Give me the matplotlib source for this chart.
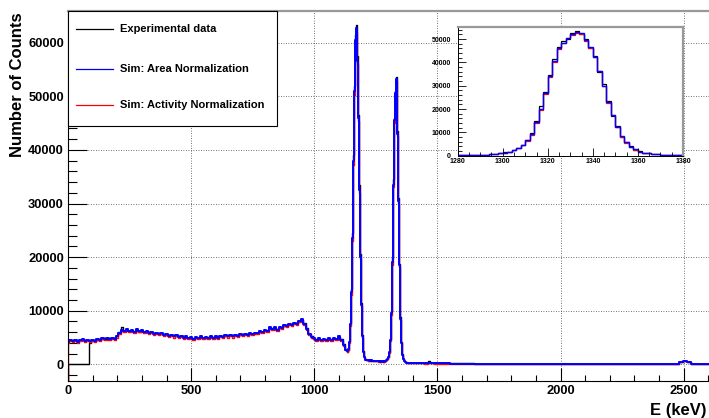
import numpy as np
import matplotlib.pyplot as plt
from matplotlib.ticker import MultipleLocator
from matplotlib.patches import Rectangle
from matplotlib.lines import Line2D

plt.rcParams['font.family'] = ['Liberation Sans', 'DejaVu Sans']
plt.rcParams['font.weight'] = 'bold'

# energy axis of the full spectrum (keV): continuum, photopeaks, high-energy tail
e_cont = np.arange(0, 1140, 10)
e_peak = np.arange(1136, 1404, 4)
e_tail = np.array([1420, 1440, 1455, 1465, 1475, 1500, 1600, 1700, 1800, 1900, 2000,
                   2100, 2200, 2300, 2400, 2470, 2490, 2505, 2520, 2540, 2600])

exp_cont = [0, 0, 0, 0, 0, 0, 0, 0, 0, 3900,
            4400, 4300, 4600, 4600, 4800, 4800, 4800, 4700, 4900, 4900,
            5300, 6000, 7000, 6300, 6400, 6300, 6300, 6200, 6500, 6100,
            6300, 6100, 6200, 5800, 6000, 5800, 5800, 5700, 5700, 5500,
            5500, 5400, 5400, 5300, 5300, 5200, 5200, 5100, 5100, 5000,
            5000, 4900, 5000, 5000, 5100, 5000, 5000, 5100, 5200, 5100,
            5100, 5100, 5200, 5200, 5300, 5300, 5400, 5300, 5400, 5400,
            5500, 5500, 5600, 5600, 5700, 5700, 5800, 5900, 6100, 6100,
            6400, 6400, 6700, 6700, 6800, 6600, 6900, 6900, 7200, 7200,
            7500, 7500, 7700, 7700, 8000, 8300, 7800, 6800, 5700, 5200,
            4800, 4700, 4800, 4600, 4700, 4700, 4800, 4700, 4800, 4800,
            5100, 4700, 3800, 2600]
area_cont = [4200, 4500, 4300, 4600, 4200, 4500, 4700, 4300, 4500, 4300,
             4600, 4400, 4700, 4500, 4900, 4700, 4900, 4700, 5000, 4800,
             5200, 5800, 6500, 6200, 6600, 6200, 6500, 6100, 6600, 6200,
             6400, 6000, 6300, 5900, 6100, 5700, 5900, 5600, 5800, 5400,
             5600, 5300, 5500, 5200, 5400, 5100, 5300, 5000, 5200, 4900,
             5100, 4800, 5100, 4900, 5200, 4900, 5100, 5000, 5300, 5000,
             5200, 5000, 5300, 5100, 5400, 5200, 5500, 5200, 5500, 5300,
             5600, 5400, 5700, 5500, 5800, 5600, 5900, 5800, 6200, 6000,
             6500, 6300, 6900, 6600, 6900, 6500, 7000, 6800, 7300, 7100,
             7600, 7400, 7800, 7600, 8100, 8400, 7600, 6600, 5600, 5100,
             4900, 4600, 4900, 4500, 4800, 4600, 4900, 4600, 4900, 4700,
             5200, 4600, 3700, 2700]
act_cont = [4000, 4300, 4100, 4300, 4000, 4300, 4500, 4100, 4300, 4100,
            4400, 4200, 4500, 4300, 4700, 4500, 4600, 4500, 4700, 4600,
            5000, 5600, 6200, 6000, 6300, 6000, 6200, 5900, 6300, 6000,
            6100, 5800, 6000, 5700, 5900, 5500, 5700, 5400, 5600, 5200,
            5400, 5100, 5300, 5000, 5200, 4900, 5100, 4800, 5000, 4700,
            4900, 4600, 4900, 4700, 5000, 4700, 4900, 4800, 5100, 4800,
            5000, 4800, 5100, 4900, 5200, 5000, 5300, 5000, 5300, 5100,
            5400, 5200, 5500, 5300, 5600, 5400, 5700, 5600, 6000, 5800,
            6300, 6100, 6700, 6400, 6700, 6300, 6800, 6600, 7100, 6900,
            7400, 7200, 7600, 7400, 7900, 8200, 7400, 6400, 5400, 4900,
            4700, 4400, 4700, 4300, 4600, 4400, 4700, 4400, 4700, 4500,
            5000, 4400, 3500, 2600]

exp_peak = [2400, 2700, 4300, 7800, 14000, 24500, 39000, 52000, 61500, 63200,
            57500, 46500, 33500, 20500, 11500, 5400, 2500, 1300, 950, 850,
            800, 700, 800, 700, 750, 700, 650, 650, 650, 600,
            650, 550, 600, 500, 550, 550, 500, 550, 700, 800,
            1000, 1400, 2300, 4700, 10000, 19800, 34500, 46000, 51000, 53600,
            50500, 43500, 31000, 18800, 8800, 4100, 1900, 1050, 700, 480,
            380, 300, 280, 260, 250, 240, 240]
area_peak = [2500, 2800, 4200, 7500, 13500, 23500, 38000, 51000, 60500, 62700,
             56500, 46000, 32500, 20000, 11000, 5200, 2400, 1300, 900, 850,
             800, 750, 800, 700, 750, 700, 650, 700, 650, 600,
             650, 550, 600, 500, 550, 600, 500, 550, 700, 800,
             1000, 1400, 2300, 4600, 9600, 19000, 33500, 45500, 50700, 53300,
             50000, 43000, 30500, 18500, 8500, 4000, 1800, 1000, 650, 450,
             350, 300, 280, 260, 250, 250, 240]
act_peak = [2400, 2700, 4000, 7200, 13000, 23000, 37200, 50200, 59800, 62000,
            56000, 45400, 32000, 19600, 10800, 5000, 2300, 1200, 850, 800,
            750, 700, 750, 650, 700, 650, 600, 650, 600, 550,
            600, 500, 550, 450, 500, 550, 450, 500, 650, 750,
            950, 1300, 2200, 4400, 9200, 18500, 33000, 45000, 50200, 52800,
            49500, 42500, 30000, 18200, 8300, 3900, 1700, 950, 600, 420,
            330, 280, 260, 240, 230, 230, 220]

exp_tail = [220, 200, 350, 550, 300, 180, 170, 160, 150, 140, 150,
            140, 130, 120, 110, 160, 450, 620, 420, 120, 100]
area_tail = [200, 180, 170, 200, 180, 170, 160, 150, 150, 140, 140,
             130, 130, 120, 110, 150, 450, 650, 450, 130, 100]
act_tail = [190, 170, 160, 190, 170, 160, 150, 140, 140, 130, 130,
            120, 120, 110, 100, 140, 420, 620, 430, 120, 90]

# zoom on the 1332 keV line, 2 keV bins
zoom_edges = np.arange(1280, 1382, 2)
exp_zoom = [150, 100, 200, 150, 250, 350, 400, 600, 800, 1100,
            1400, 1700, 2600, 3500, 4500, 6900, 9800, 15000, 21300, 27500,
            34800, 41500, 46800, 49000, 50200, 52500, 53600, 52000, 50200, 46000,
            42800, 35800, 30600, 23500, 17000, 12800, 8000, 5900, 4100, 2600,
            1900, 1200, 1100, 700, 650, 450, 400, 250, 300, 150]
area_zoom = [100, 120, 150, 180, 220, 300, 400, 550, 750, 1000,
             1300, 1800, 2400, 3300, 4600, 6600, 9200, 14500, 20000, 27000,
             34000, 40500, 46000, 48500, 50500, 52000, 53000, 52500, 49500, 46500,
             42500, 36500, 30000, 23000, 17500, 12500, 8300, 5700, 3900, 2700,
             1800, 1300, 1000, 800, 600, 500, 400, 300, 250, 200]
act_zoom = [100, 120, 140, 180, 210, 300, 380, 550, 720, 980,
            1300, 1750, 2350, 3200, 4500, 6400, 9000, 14200, 19800, 26600,
            33600, 40200, 45700, 48300, 50300, 51800, 52800, 52300, 49300, 46200,
            42300, 36200, 29800, 22700, 17300, 12300, 8200, 5600, 3800, 2600,
            1750, 1250, 950, 750, 600, 480, 380, 300, 240, 190]

labels = ['Experimental data', 'Sim: Area Normalization', 'Sim: Activity Normalization']
colors = ['black', '#0000ff', '#ff0000']

W, H = 709, 418
def fx(px):
    return px / W
def fy(py):
    return 1 - py / H

fig = plt.figure(figsize=(W / 100, H / 100), dpi=100)
ax = fig.add_axes([fx(68), fy(381), (W - 68) / W, (381 - 11) / H])

y_lo, y_hi = -3100, 65900
e_main = np.concatenate([e_cont, e_peak, e_tail])
series = [np.concatenate([exp_cont, exp_peak, exp_tail]),
          np.concatenate([area_cont, area_peak, area_tail]),
          np.concatenate([act_cont, act_peak, act_tail])]

# draw order: data, activity, area on top
for i in [0, 2, 1]:
    ax.plot(np.r_[0, e_main], np.r_[y_lo, series[i]], drawstyle='steps-mid',
            color=colors[i], lw=1.4 if i == 1 else 1.0)

ax.set_xlim(0, 2603)
ax.set_ylim(y_lo, y_hi)
ax.xaxis.set_major_locator(MultipleLocator(500))
ax.xaxis.set_minor_locator(MultipleLocator(100))
ax.yaxis.set_major_locator(MultipleLocator(10000))
ax.yaxis.set_minor_locator(MultipleLocator(2000))
ax.tick_params(which='both', direction='in', top=False, right=False, width=0.8)
ax.tick_params(axis='y', which='major', length=14, labelsize=9.3, pad=3)
ax.tick_params(axis='y', which='minor', length=6.5)
ax.tick_params(axis='x', which='major', length=9.5, labelsize=9.3, pad=3)
ax.tick_params(axis='x', which='minor', length=4.5)
ax.grid(True, which='major', color='#444444', linestyle=(0, (1, 2)), linewidth=0.6)
ax.spines['right'].set_visible(False)
ax.spines['top'].set_color('#999999')
ax.spines['top'].set_linewidth(1.6)
ax.spines['left'].set_linewidth(0.8)
ax.spines['bottom'].set_linewidth(0.8)

fig.text(fx(18), fy(12), 'Number of Counts', rotation=90, ha='center', va='top',
         fontsize=12, fontweight='bold')
fig.text(fx(707), fy(410), 'E (keV)', ha='right', va='center', fontsize=12,
         fontweight='bold')

# legend box
fig.add_artist(Rectangle((fx(68), fy(126)), (277 - 68) / W, (126 - 11) / H,
                         transform=fig.transFigure, facecolor='white',
                         edgecolor='black', lw=0.8, zorder=5))
for lab, col, ypx in zip(labels, colors, [29, 69, 105]):
    fig.add_artist(Line2D([fx(76), fx(113)], [fy(ypx), fy(ypx)], color=col, lw=0.9,
                          transform=fig.transFigure, zorder=6))
    fig.text(fx(120), fy(ypx), lab, ha='left', va='center', fontsize=8,
             fontweight='bold', zorder=6)

# inset around the 1332 keV peak
ins = fig.add_axes([fx(457.7), fy(155.7), (683 - 457.7) / W, (155.7 - 26.7) / H])
ins.set_facecolor('white')
for i in [0, 2, 1]:
    vals = [exp_zoom, area_zoom, act_zoom][i]
    ins.stairs(vals, zoom_edges, color=colors[i], lw=1.0 if i == 1 else 0.9)
ins.set_xlim(1280, 1380)
ins.set_ylim(0, 55300)
ins.xaxis.set_major_locator(MultipleLocator(20))
ins.xaxis.set_minor_locator(MultipleLocator(5))
ins.yaxis.set_major_locator(MultipleLocator(10000))
ins.yaxis.set_minor_locator(MultipleLocator(2000))
ins.tick_params(which='both', direction='in', top=False, right=False, width=0.6)
ins.tick_params(which='major', length=6, labelsize=5, pad=2)
ins.tick_params(which='minor', length=3)
ins.tick_params(axis='y', which='major', pad=5)
ins.spines['top'].set_color('#999999')
ins.spines['right'].set_color('#999999')
ins.spines['top'].set_linewidth(1.6)
ins.spines['right'].set_linewidth(1.6)
ins.spines['left'].set_linewidth(0.7)
ins.spines['bottom'].set_linewidth(0.7)

fig.savefig('out.png', dpi=100)
